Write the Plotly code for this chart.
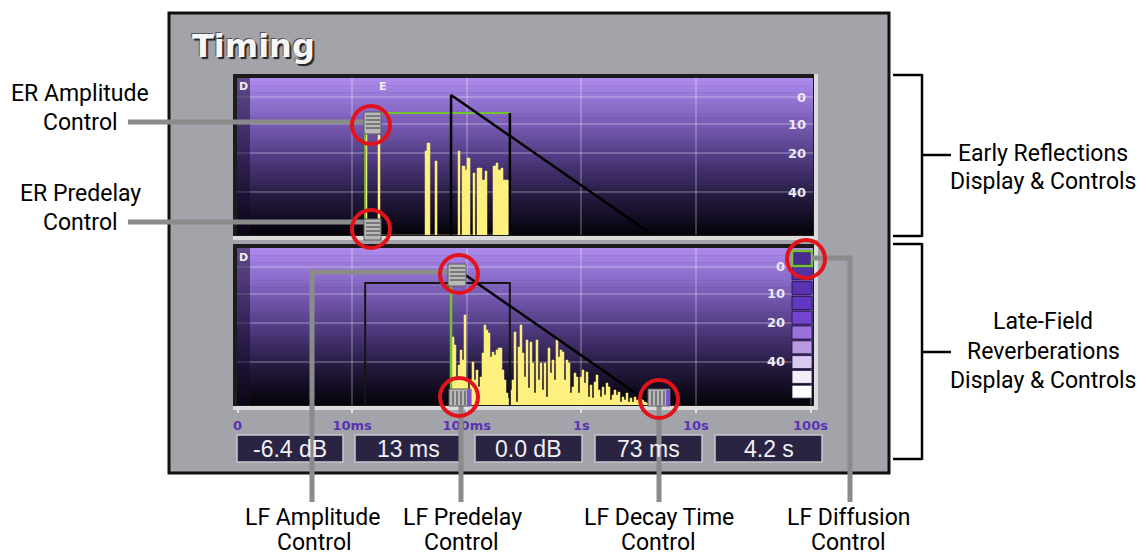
import plotly.graph_objects as go

W, H = 1146, 557

# ---------------- data ----------------
time_tick_ms = [1, 10, 100, 1000, 10000, 100000]
time_tick_text = ["0", "10ms", "100ms", "1s", "10s", "100s"]
grid_ms = [10, 100, 1000, 10000]
level_tick = [43, 82, 111, 138]
db_tick_text = ["40", "20", "10", "0"]

readouts = ["-6.4 dB", "13 ms", "0.0 dB", "73 ms", "4.2 s"]

er_predelay_ms = 13
er_end_ms = 238
er_amp_level = 122
lf_predelay_ms = 73
lf_decay_ms = 4200
lf_amp_level = 140

# early reflections: bin start time (ms) and display level
er_time_ms = [12.96, 13.49, 16.83, 17.52, 43.3, 45.0, 47.8, 52.9, 55.1, 84.0,
              87.4, 91.0, 96.7, 100.6, 106.9, 113.5, 118.1, 123.0, 136.0, 144.4,
              150.4, 169.6, 180.2, 187.6, 199.3, 207.5, 220.3, 238.7]
er_bar_level = [120, 0, 100, 0, 84, 92, 0, 74, 0, 84,
                0, 69, 65, 77, 0, 62, 0, 67, 55, 64,
                0, 69, 72, 65, 67, 55, 55, 0]

# late field: bin edges (ms) and display level per bin
lf_time_ms = [74.4, 77.5, 80.6, 83.9, 87.4, 91.0, 94.7, 98.6, 102.6, 106.8,
              111.2, 115.8, 120.5, 125.5, 130.6, 136.0, 141.5, 147.3, 153.4, 159.7,
              166.2, 173.0, 180.1, 187.5, 195.2, 203.2, 211.5, 220.2, 229.2, 238.6,
              248.4, 258.6, 269.2, 280.2, 291.7, 303.7, 316.1, 329.1, 342.6, 356.6,
              371.2, 386.5, 402.3, 418.8, 436.0, 453.9, 472.5, 491.9, 512.0, 533.0,
              554.9, 577.7, 601.4, 626.0, 651.7, 678.4, 706.2, 735.2, 765.3, 796.7,
              829.4, 863.4, 898.8, 935.7, 974.1, 1014, 1056, 1099, 1144, 1191,
              1240, 1291, 1344, 1399, 1456, 1516, 1578, 1643, 1710, 1780,
              1853, 1929, 2008, 2091, 2177, 2266, 2359, 2456, 2556, 2661,
              2770, 2884, 3002, 3125, 3253, 3387, 3526, 3670, 3821, 3977, 4140]
lf_bar_level = [68, 60, 28, 40, 55, 45, 90, 25, 15, 25,
                43, 25, 35, 18, 28, 52, 80, 75, 72, 48,
                53, 50, 55, 57, 57, 35, 25, 12, 7, 15,
                25, 73, 3, 58, 80, 52, 28, 65, 17, 63,
                42, 12, 65, 25, 42, 15, 42, 8, 57, 32,
                45, 25, 65, 48, 55, 53, 25, 45, 42, 12,
                18, 32, 28, 12, 28, 35, 22, 33, 8, 20,
                7, 23, 30, 15, 8, 18, 10, 22, 18, 5,
                10, 15, 10, 13, 3, 8, 5, 12, 3, 7,
                3, 8, 5, 5, 4, 6, 3, 4, 3, 3]

# ---------------- styling helpers ----------------
LABEL_FONT = "Roboto, Liberation Sans, sans-serif"
YELLOW = "#fdf07f"
GREEN = "#72c232"
RED = "#e3131b"
LEADER = "#8b8b8b"

def fx(x):
    return x / W

def fy(y):
    return 1 - y / H

shapes = []
annotations = []

def rect(x0, y0, x1, y1, fill, line=None, lw=0, layer="above"):
    shapes.append(dict(type="rect", xref="paper", yref="paper",
                       x0=fx(x0), x1=fx(x1), y0=fy(y1), y1=fy(y0),
                       fillcolor=fill, layer=layer,
                       line=dict(color=line or "rgba(0,0,0,0)", width=lw)))

def seg(x0, y0, x1, y1, color, w, layer="above"):
    shapes.append(dict(type="line", xref="paper", yref="paper",
                       x0=fx(x0), x1=fx(x1), y0=fy(y0), y1=fy(y1),
                       layer=layer, line=dict(color=color, width=w)))

def circ(cx, cy, r, color, w):
    shapes.append(dict(type="circle", xref="paper", yref="paper",
                       x0=fx(cx - r), x1=fx(cx + r), y0=fy(cy + r), y1=fy(cy - r),
                       layer="above", fillcolor="rgba(0,0,0,0)",
                       line=dict(color=color, width=w)))

def text(t, x, y, size, color="black", family=LABEL_FONT, xanchor="center", weight="normal",
         shadow="none"):
    annotations.append(dict(text=t, x=fx(x), y=fy(y), xref="paper", yref="paper",
                            showarrow=False, xanchor=xanchor, yanchor="middle",
                            font=dict(size=size, color=color, family=family, weight=weight,
                                      shadow=shadow)))

# panel
rect(169, 13, 889, 473, "#a3a3aa", "#111111", 3, layer="below")

# display frames + gradient backgrounds
stops = [(0.0, (174, 140, 238)), (0.25, (128, 98, 190)), (0.5, (82, 60, 132)),
         (0.75, (38, 27, 66)), (1.0, (4, 2, 8))]

def grad(f):
    for (f0, c0), (f1, c1) in zip(stops[:-1], stops[1:]):
        if f0 <= f <= f1:
            t = (f - f0) / (f1 - f0)
            return "rgb(%d,%d,%d)" % tuple(round(a + (b - a) * t) for a, b in zip(c0, c1))
    return "rgb(4,2,8)"

PANELS = [(78, 235), (248, 405)]
for top, bot in PANELS:
    rect(233, top - 4, 818, bot + 5, "#dcdcdc", layer="below")
    rect(233, top - 4, 814, bot + 1, "#1c1c1c", layer="below")
    n = 44
    for i in range(n):
        y0 = top + (bot - top) * i / n
        y1 = top + (bot - top) * (i + 1) / n + 0.6
        rect(237, y0, 813, min(y1, bot), grad((i + 0.5) / n), layer="below")

# D strips
for top, bot in PANELS:
    rect(237, top, 250, bot, "rgba(20,10,40,0.5)")

# diffusion column
diff_cols = ["#4a2b92", "#5531a8", "#5a32b2", "#6238c2", "#7343d2",
             "#9b72da", "#b99ae2", "#d9c9f0", "#f1edf8", "#ffffff"]
for i, c in enumerate(diff_cols):
    y0 = 252 + i * 14.8
    rect(792, y0, 812, y0 + 13, c, "rgba(30,15,60,0.8)", 1)
rect(792, 251, 812, 266, "rgba(0,0,0,0)", GREEN, 2.5)

# value boxes
box_x = [(237, 343), (355, 461), (475, 582), (595, 702), (715, 822)]
for (x0, x1), t in zip(box_x, readouts):
    rect(x0, 435, x1, 462, "#2a2442", "#c6c6ce", 1.5)
    text(t, (x0 + x1) / 2, 448.5, 23, "#f0f0f6", "Liberation Sans, Arial, sans-serif")

# leader lines
seg(128, 122, 364, 122, LEADER, 5)
seg(128, 222, 364, 222, LEADER, 5)
seg(312, 272, 449, 272, LEADER, 5)
seg(312, 269.5, 312, 502, LEADER, 5)
seg(461, 404, 461, 502, LEADER, 5)
seg(659, 404, 659, 502, LEADER, 5)
seg(812, 258, 850, 258, LEADER, 5)
seg(850, 255.5, 850, 502, LEADER, 5)

# sliders
def hslider(x0, y0, x1, y1):
    rect(x0, y0, x1, y1, "#b9b9b9", "#5a5a5a", 1)
    yy = y0 + 4
    while yy < y1 - 2:
        seg(x0 + 2, yy, x1 - 1, yy, "#676767", 1.6)
        yy += 4

def vslider(x0, y0, x1, y1):
    rect(x0, y0, x1, y1, "#b9b9b9", "#5a5a5a", 1)
    rect(x1 - 4, y0 + 1, x1, y1, "#7b52d2")
    xx = x0 + 4
    while xx < x1 - 5:
        seg(xx, y0 + 2, xx, y1 - 1, "#676767", 1.6)
        xx += 4

hslider(364, 112, 381, 134)
hslider(364, 219, 381, 240)
hslider(448, 264, 466, 286)
vslider(449, 389, 471, 406)
vslider(648, 389, 670, 406)

# brackets
for t0, t1, mid in [(75, 236, 155), (244, 459, 352)]:
    seg(893, t0, 922, t0, "black", 2.5)
    seg(922, t0 - 1, 922, t1 + 1, "black", 2.5)
    seg(893, t1, 922, t1, "black", 2.5)
    seg(922, mid, 951, mid, "black", 2.5)

# red circles
for cx, cy in [(371, 125), (371, 229), (459, 274), (459, 397), (659, 399), (806, 259)]:
    circ(cx, cy, 19, RED, 4)

# ---------------- texts ----------------
text("Timing", 190, 46, 32, "#f6f6f6", "DejaVu Sans", "left", "bold",
     shadow="2px 2px 1px #222, -1px -1px 0px #555")
text("D", 243, 87, 11, "#f0f0f0", "DejaVu Sans", weight="bold")
text("E", 383, 86, 11, "#f0f0f0", "DejaVu Sans", weight="bold")
text("D", 243, 257, 11, "#f0f0f0", "DejaVu Sans", weight="bold")

LS = 23
text("ER Amplitude", 80, 93, LS)
text("Control", 80, 122, LS)
text("ER Predelay", 80, 193, LS)
text("Control", 80, 222, LS)
text("Early Reflections", 1043, 153, LS)
text("Display &amp; Controls", 1043, 181, LS)
text("Late-Field", 1043, 321, LS)
text("Reverberations", 1043, 351, LS)
text("Display &amp; Controls", 1043, 380, LS)
text("LF Amplitude", 312, 517, LS)
text("Control", 314, 542, LS)
text("LF Predelay", 463, 517, LS)
text("Control", 461, 542, LS)
text("LF Decay Time", 659, 517, LS)
text("Control", 659, 542, LS)
text("LF Diffusion", 848, 517, LS)
text("Control", 848, 542, LS)

# dB scale labels of the late-field display (placed on the y2 scale)
ytick_font = dict(family="DejaVu Sans", size=13, color="#ece8f4", weight="bold")
for lv, lab in zip(level_tick, db_tick_text):
    annotations.append(dict(text=lab, x=fx(787), y=lv, xref="paper", yref="y2",
                            showarrow=False, xanchor="right", yanchor="middle",
                            font=ytick_font))

# ---------------- traces ----------------
fig = go.Figure()

# early reflections (upper display)
fig.add_trace(go.Scatter(x=er_time_ms, y=er_bar_level, mode="lines", line_shape="hv",
                         fill="tozeroy", fillcolor=YELLOW, line=dict(color=YELLOW, width=0.5),
                         xaxis="x", yaxis="y"))
fig.add_trace(go.Scatter(x=[er_predelay_ms, er_predelay_ms, er_end_ms], y=[0, er_amp_level, er_amp_level],
                         mode="lines", line=dict(color=GREEN, width=2), xaxis="x", yaxis="y"))
fig.add_trace(go.Scatter(x=[er_end_ms, er_end_ms], y=[er_amp_level, 0],
                         mode="lines", line=dict(color="black", width=2.5), xaxis="x", yaxis="y"))
fig.add_trace(go.Scatter(x=[lf_predelay_ms, lf_predelay_ms, lf_decay_ms], y=[0, lf_amp_level, 0],
                         mode="lines", line=dict(color="black", width=2.5), xaxis="x", yaxis="y"))

# late field (lower display)
fig.add_trace(go.Scatter(x=lf_time_ms, y=lf_bar_level + [0], mode="lines", line_shape="hv",
                         fill="tozeroy", fillcolor=YELLOW, line=dict(color=YELLOW, width=0.5),
                         xaxis="x2", yaxis="y2"))
fig.add_trace(go.Scatter(x=[er_predelay_ms, er_predelay_ms, er_end_ms, er_end_ms],
                         y=[0, er_amp_level, er_amp_level, 0],
                         mode="lines", line=dict(color="#161616", width=2), xaxis="x2", yaxis="y2"))
fig.add_trace(go.Scatter(x=[lf_predelay_ms, lf_predelay_ms], y=[0, lf_amp_level],
                         mode="lines", line=dict(color=GREEN, width=2.5), xaxis="x2", yaxis="y2"))
fig.add_trace(go.Scatter(x=[lf_predelay_ms, lf_decay_ms], y=[lf_amp_level, 0],
                         mode="lines", line=dict(color="black", width=2.5), xaxis="x2", yaxis="y2"))

# ---------------- axes ----------------
X0, X1 = 237, 813
XR = [(X0 - 237.5) / 114.6, (X1 - 237.5) / 114.6]
GRID = "rgba(255,255,255,0.22)"

common_x = dict(type="log", range=XR, domain=[fx(X0), fx(X1)], showgrid=True,
                gridcolor=GRID, gridwidth=2, zeroline=False, showline=False, automargin=False)
fig.update_layout(
    width=W, height=H, margin=dict(l=0, r=0, t=0, b=0, pad=0, autoexpand=False),
    paper_bgcolor="white", plot_bgcolor="rgba(0,0,0,0)", showlegend=False,
    xaxis=dict(**common_x, anchor="y", tickvals=grid_ms, showticklabels=False, ticks=""),
    yaxis=dict(domain=[fy(235), fy(78)], range=[0, 157], anchor="x", side="right",
               tickvals=level_tick, ticktext=db_tick_text, ticklabelposition="inside",
               ticklabelstandoff=4, ticks="", showgrid=True, gridcolor=GRID, gridwidth=2,
               zeroline=False, tickfont=ytick_font, automargin=False),
    xaxis2=dict(**common_x, anchor="y2", tickvals=time_tick_ms, ticktext=time_tick_text,
                ticks="outside", ticklen=7, tickwidth=2, tickcolor="#e4e4e4",
                ticklabelstandoff=1, ticklabeloverflow="allow",
                tickfont=dict(family="DejaVu Sans", size=13, color="#5a32b4", weight="bold")),
    yaxis2=dict(domain=[fy(405), fy(248)], range=[0, 157], anchor="x2", side="right",
                tickvals=level_tick, showticklabels=False, ticks="", showgrid=True,
                gridcolor=GRID, gridwidth=2, zeroline=False, automargin=False),
    shapes=shapes, annotations=annotations,
)

fig.write_html("out.html", config={"displayModeBar": False},
               post_script="document.body.style.margin='0px';document.body.style.overflow='hidden';")
